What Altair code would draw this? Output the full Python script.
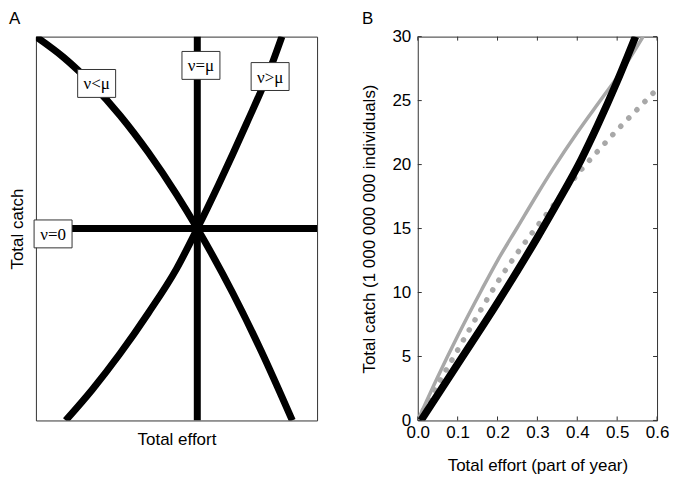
import altair as alt
import pandas as pd

# ---------------- Panel A (schematic) ----------------
a_lt_x = [0, 0.1, 0.2, 0.3, 0.4, 0.5, 0.574, 0.7, 0.8, 0.912]
a_lt_y = [1, 0.945, 0.876, 0.794, 0.698, 0.589, 0.5, 0.332, 0.183, 0.0]
a_gt_x = [0.106, 0.2, 0.3, 0.4, 0.5, 0.574, 0.65, 0.75, 0.83, 0.875]
a_gt_y = [0, 0.08, 0.175, 0.28, 0.395, 0.5, 0.615, 0.775, 0.91, 1.0]
a_eq_x = [0.574, 0.574]
a_eq_y = [0, 1]
a_zero_x = [0, 1]
a_zero_y = [0.5, 0.5]

label_text = ["ν<μ", "ν=μ", "ν>μ", "ν=0"]
label_x = [0.216, 0.587, 0.833, 0.061]
label_y = [0.878, 0.925, 0.896, 0.486]

# ---------------- Panel B (data) ----------------
b_black_x = [0.008, 0.1, 0.2, 0.3, 0.35, 0.41, 0.45, 0.5, 0.546]
b_black_y = [0, 4.4, 9.2, 14.3, 17.0, 20.4, 23.0, 26.5, 30]
b_gray_x = [0, 0.05, 0.1, 0.16, 0.2, 0.25, 0.3, 0.34, 0.4, 0.46, 0.513, 0.565]
b_gray_y = [0, 3.4, 6.6, 10.2, 12.5, 15.1, 17.7, 19.7, 22.5, 25.1, 27.4, 30]
b_dot_x = [0, 0.05, 0.1, 0.15, 0.2, 0.25, 0.3, 0.35, 0.41, 0.45, 0.5, 0.55, 0.6]
b_dot_y = [0, 2.8, 5.5, 8.2, 10.8, 13.1, 15.2, 17.2, 19.6, 21.0, 22.7, 24.3, 25.9]

x_ticks = [0, 0.1, 0.2, 0.3, 0.4, 0.5, 0.6]
y_ticks = [0, 5, 10, 15, 20, 25, 30]

FONT = "Liberation Sans"
SERIF = "Liberation Serif"
GRAY = "#a8a8a8"

def curve(xs, ys, name):
    return pd.DataFrame({"x": xs, "y": ys, "o": list(range(len(xs))), "c": name})

# ---------- Panel A ----------
a_df = pd.concat([
    curve(a_lt_x, a_lt_y, "lt"),
    curve(a_gt_x, a_gt_y, "gt"),
    curve(a_eq_x, a_eq_y, "eq"),
    curve(a_zero_x, a_zero_y, "zero"),
])
ax = alt.Scale(domain=[0, 1], nice=False, zero=False)
ay = alt.Scale(domain=[0, 1], nice=False, zero=False)
a_xaxis = alt.Axis(labels=False, ticks=False, domain=False, grid=False, titlePadding=11)
a_yaxis = alt.Axis(labels=False, ticks=False, domain=False, grid=False, titlePadding=9)

a_lines = alt.Chart(a_df).mark_line(color="black", strokeWidth=7, clip=True,
                                    interpolate="monotone").encode(
    x=alt.X("x:Q", scale=ax, axis=a_xaxis, title="Total effort"),
    y=alt.Y("y:Q", scale=ay, axis=a_yaxis, title="Total catch"),
    detail="c:N",
    order="o:Q",
)
lab_df = pd.DataFrame({"t": label_text, "x": label_x, "y": label_y})
a_boxes = alt.Chart(lab_df).mark_point(
    shape="M-1.36,-1L1.36,-1L1.36,1L-1.36,1Z", size=784, filled=True,
    fill="white", stroke="#333333", strokeWidth=1, opacity=1
).encode(x=alt.X("x:Q", scale=ax, axis=a_xaxis, title="Total effort"),
         y=alt.Y("y:Q", scale=ay, axis=a_yaxis, title="Total catch"))
a_text = alt.Chart(lab_df).mark_text(
    font=SERIF, fontSize=17, color="black", align="center", baseline="middle", dy=1
).encode(x=alt.X("x:Q", scale=ax, axis=a_xaxis, title="Total effort"),
         y=alt.Y("y:Q", scale=ay, axis=a_yaxis, title="Total catch"), text="t:N")
a_title = alt.Chart(pd.DataFrame({"t": ["A"]})).mark_text(
    font=FONT, fontSize=17, color="black", align="left", baseline="top"
).encode(text="t:N", x=alt.value(-27), y=alt.value(-26))

panel_a = alt.layer(a_lines, a_boxes, a_text, a_title).properties(width=282, height=385)

# ---------- Panel B ----------
bx = alt.Scale(domain=[0, 0.6], nice=False, zero=False)
by = alt.Scale(domain=[0, 30], nice=False, zero=False)
b_xaxis = alt.Axis(values=x_ticks, format=".1f", ticks=False, domain=False, grid=False,
                   labelFlush=False, labelPadding=4, titlePadding=17)
b_yaxis = alt.Axis(values=y_ticks, ticks=False, domain=False, grid=False,
                   labelFlush=False, labelPadding=7, titlePadding=13)
XT = "Total effort (part of year)"
YT = "Total catch (1 000 000 000 individuals)"

def b_line(xs, ys, name, **kw):
    return alt.Chart(curve(xs, ys, name)).mark_line(clip=True, interpolate="monotone", **kw).encode(
        x=alt.X("x:Q", scale=bx, axis=b_xaxis, title=XT),
        y=alt.Y("y:Q", scale=by, axis=b_yaxis, title=YT),
        order="o:Q",
    )

b_dot = b_line(b_dot_x, b_dot_y, "dot", color=GRAY, strokeWidth=5.5,
               strokeDash=[0.1, 11.5], strokeCap="round")
b_gray = b_line(b_gray_x, b_gray_y, "gray", color=GRAY, strokeWidth=3.5)
b_black = b_line(b_black_x, b_black_y, "black", color="black", strokeWidth=7.5)

BW = 240
xt_df = pd.DataFrame({"x": x_ticks})
yt_df = pd.DataFrame({"y": y_ticks})
TC = "#333333"
t_bottom = alt.Chart(xt_df).mark_rule(color=TC, strokeWidth=1).encode(
    x=alt.X("x:Q", scale=bx, axis=b_xaxis, title=XT), y=alt.value(385), y2=alt.value(381))
t_top = alt.Chart(xt_df).mark_rule(color=TC, strokeWidth=1).encode(
    x=alt.X("x:Q", scale=bx, axis=b_xaxis, title=XT), y=alt.value(0), y2=alt.value(4))
t_left = alt.Chart(yt_df).mark_rule(color=TC, strokeWidth=1).encode(
    y=alt.Y("y:Q", scale=by, axis=b_yaxis, title=YT), x=alt.value(0), x2=alt.value(4))
t_right = alt.Chart(yt_df).mark_rule(color=TC, strokeWidth=1).encode(
    y=alt.Y("y:Q", scale=by, axis=b_yaxis, title=YT), x=alt.value(BW), x2=alt.value(BW - 4))
b_title = alt.Chart(pd.DataFrame({"t": ["B"]})).mark_text(
    font=FONT, fontSize=17, color="black", align="left", baseline="top"
).encode(text="t:N", x=alt.value(-56), y=alt.value(-26))

panel_b = alt.layer(b_dot, b_gray, b_black, t_bottom, t_top, t_left, t_right, b_title).properties(
    width=BW, height=385)

chart = alt.hconcat(panel_a, panel_b, spacing=101, bounds="flush", background="white",
                    padding={"left": 0, "top": 0, "right": 0, "bottom": 0}).configure_view(
    stroke="#333333", strokeWidth=1
).configure_axis(
    labelFont=FONT, titleFont=FONT, labelFontSize=17, titleFontSize=17,
    labelColor="black", titleColor="black", titleFontWeight="normal"
)

chart.save("out.html", embed_options={"renderer": "svg", "actions": False})
